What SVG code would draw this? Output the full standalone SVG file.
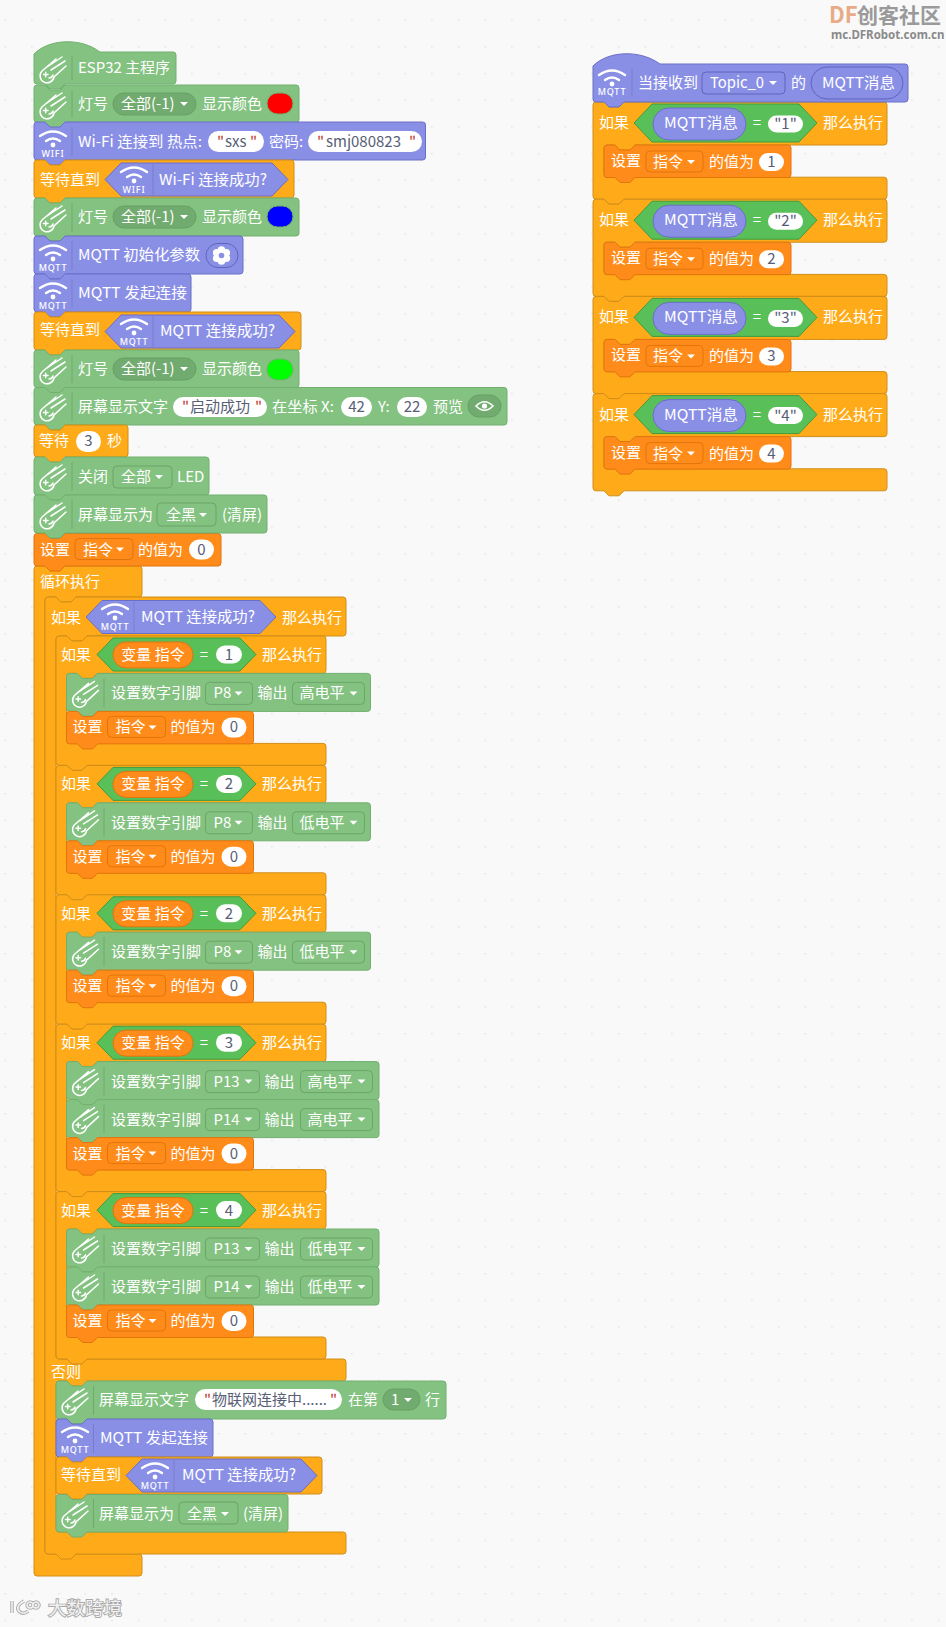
<svg xmlns="http://www.w3.org/2000/svg" width="946" height="1627" viewBox="0 0 946 1627">
<style>
text{font-family:"Noto Sans CJK SC","Noto Sans",sans-serif;font-size:15px}
.t{fill:#fff}.k{fill:#575e75}.q{fill:#c0392b}
.m{text-anchor:middle}
.g{fill:#84c281;stroke:#71b06e}.p{fill:#8a8fe6;stroke:#6a6ec6}.o{fill:#ffab19;stroke:#d08d18}.v{fill:#ff8c1a;stroke:#e0750c}
.h{fill:#59c059;stroke:#3f9c3f}.ph{fill:#8a8fe6;stroke:#6a6ec6}
.wp{fill:#fff}
.dg{fill:#84c281;stroke:#6aa667}.dgp{fill:#72ab6f;stroke:#66a063}.dv{fill:#ff8c1a;stroke:#e0750c}.dp{fill:#8a8fe6;stroke:#5f63bd}
.vp{fill:#ff8c1a;stroke:#e0750c}
.sep{stroke:#000;stroke-opacity:.13;fill:none}
.wl{font-size:9px;fill:#fff;text-anchor:middle;letter-spacing:.8px;font-family:"Noto Sans",sans-serif;font-weight:500}
</style>
<defs>
<pattern id="dots" width="26.67" height="26.67" x="4.5" y="19.5" patternUnits="userSpaceOnUse"><rect width="1.5" height="1.5" fill="#e2e2e2"/></pattern>
<path id="c" d="M-4-2h8l-4 4z" fill="#fff"/>
<g id="comet" fill="none" stroke="#fff" stroke-width="1.5" stroke-linecap="round"><path d="M-11 3A7 7 0 1 0 1 9L13-2M-11 3L3-9M-6-1L9-11M-2 2L12-7M-9.500 6.500h4.500M-7.300 4.300v4.500M-4 10Q-1 10 0 7"/></g>
<g id="wifi"><path d="M-13-9Q0-18 13-9M-7-4Q0-9 7-4" fill="none" stroke="#fff" stroke-width="2.4" stroke-linecap="round"/><circle r="2.4" fill="#fff"/></g>
<path id="s-pin" class="g" d="M0 3q0-3 3-3h8l5 5h10l5-5H301q3 0 3 3V35q0 3-3 3H31l-5 5h-10l-5-5H3q-3 0-3-3Z"/>
<path id="s-pin2" class="g" d="M0 3q0-3 3-3h8l5 5h10l5-5H309.500q3 0 3 3V35q0 3-3 3H31l-5 5h-10l-5-5H3q-3 0-3-3Z"/>
<path id="s-set" class="v" d="M0 3q0-3 3-3h8l5 5h10l5-5H184q3 0 3 3V29.500q0 3-3 3H31l-5 5h-10l-5-5H3q-3 0-3-3Z"/>
<path id="s-if1" class="o" d="M0 3q0-3 3-3h8l5 5h10l5-5H267q3 0 3 3V34.400q0 3-3 3H41l-5 5h-10l-5-5H13.500q-3 0-3 3V104.400q0 3 3 3H267q3 0 3 3V126.400q0 3-3 3H31l-5 5h-10l-5-5H3q-3 0-3-3Z"/>
<path id="s-if2" class="o" d="M0 3q0-3 3-3h8l5 5h10l5-5H267q3 0 3 3V34.400q0 3-3 3H41l-5 5h-10l-5-5H13.500q-3 0-3 3V142.400q0 3 3 3H267q3 0 3 3V164.400q0 3-3 3H31l-5 5h-10l-5-5H3q-3 0-3-3Z"/>
<path id="s-ifr" class="o" d="M0 3q0-3 3-3h8l5 5h10l5-5H291q3 0 3 3V40q0 3-3 3H42l-5 5h-10l-5-5H14q-3 0-3 3V72.200q0 3 3 3H291q3 0 3 3V94.200q0 3-3 3H31l-5 5h-10l-5-5H3q-3 0-3-3Z"/>
<path id="s-hex" class="h" d="M41 18.500L57 2H184L200 18.500L184 35H57Z"/>
<path id="s-hexr" class="h" d="M41 21L59 2H206L224 21L206 40H59Z"/>
</defs>
<rect width="946" height="1627" fill="#f9f9f9"/>
<rect width="946" height="1627" fill="url(#dots)"/>

<g id="watermark-top">
<text x="829" y="23" style="font-size:22px;font-weight:700;fill:#e8ab86">DF</text>
<text x="857" y="23" style="font-size:21px;font-weight:700;fill:#9a9a9a">创客社区</text>
<text x="831" y="39" style="font-size:11.500px;font-weight:700;fill:#8a8a8a;font-family:'Noto Sans',sans-serif">mc.DFRobot.com.cn</text>
</g>
<g id="watermark-bottom">
<path d="M12 1602V1614M24 1602Q14 1608 20 1613Q24 1616 28 1612M36 1603a3 3 0 1 0 .1 0M30 1603a3 3 0 1 0 .1 0" transform="translate(0 -1)" fill="none" stroke="#adadad" stroke-width="3.500"/>
<path d="M12 1602V1614M24 1602Q14 1608 20 1613Q24 1616 28 1612M36 1603a3 3 0 1 0 .1 0M30 1603a3 3 0 1 0 .1 0" transform="translate(0 -1)" fill="none" stroke="#f4f4f4" stroke-width="1.500"/>
<text x="48" y="1615" style="font-size:18.500px;fill:#f2f2f2;stroke:#a8a8a8;stroke-width:1.800;paint-order:stroke">大数跨境</text>
</g>

<g id="connectors"></g>

<!-- main stack -->
<g id="loop"><path class="o" transform="translate(34 566)" d="M0 3q0-3 3-3h8l5 5h10l5-5H105q3 0 3 3V28q0 3-3 3H42l-5 5h-10l-5-5H14q-3 0-3 3V985q0 3 3 3H105q3 0 3 3V1007q0 3-3 3H3q-3 0-3-3Z"/>
<text class="t" x="40" y="587">循环执行</text></g>

<g id="set-top"><use href="#s-set" x="34" y="533.500"/><g transform="translate(34 533.500)"><text class="t" x="6" y="21">设置</text><rect class="dv" x="41" y="5" width="58" height="21" rx="4"/><text class="t" x="49" y="21">指令</text><use href="#c" x="86" y="16"/><text class="t" x="104" y="21">的值为</text><rect class="wp" x="155" y="6" width="25" height="20" rx="10"/><text class="k m" x="167.500" y="21">0</text></g></g>

<g id="hat"><path class="g" transform="translate(34 52)" d="M0 2c16-16 48-16 66-2H139q3 0 3 3V29q0 3-3 3H31l-5 5h-10l-5-5H3q-3 0-3-3Z"/>
<use href="#comet" x="53" y="68"/><path class="sep" d="M72 56V80"/><text class="t" x="78" y="73" textLength="92" lengthAdjust="spacingAndGlyphs">ESP32 主程序</text></g>

<g id="led-red"><path class="g" transform="translate(34 85)" d="M0 3q0-3 3-3h8l5 5h10l5-5H262q3 0 3 3V34.500q0 3-3 3H31l-5 5h-10l-5-5H3q-3 0-3-3Z"/>
<use href="#comet" x="53" y="104"/><path class="sep" d="M72 90V118"/><text class="t" x="78" y="109">灯号</text><rect class="dgp" x="113" y="93" width="83" height="22" rx="11"/><text class="t" x="121" y="109">全部(-1)</text><use href="#c" x="184" y="104"/><text class="t" x="202" y="109">显示颜色</text><rect x="267" y="93" width="26" height="21" rx="10.500" fill="#f00" stroke="#71b06e"/></g>

<g id="wifi-connect"><path class="p" transform="translate(34 122)" d="M0 3q0-3 3-3h8l5 5h10l5-5H388.500q3 0 3 3V35q0 3-3 3H31l-5 5h-10l-5-5H3q-3 0-3-3Z"/>
<use href="#wifi" x="53" y="145"/><text class="wl" x="53" y="157">WIFI</text><path class="sep" d="M72 127V156"/><text class="t" x="78" y="147" textLength="124" lengthAdjust="spacingAndGlyphs">Wi-Fi 连接到 热点:</text>
<rect class="wp" x="208" y="131" width="56" height="21" rx="10.500"/><text class="k" y="147"><tspan class="q" x="217">"</tspan><tspan x="225">sxs</tspan><tspan class="q" x="250">"</tspan></text>
<text class="t" x="269" y="147">密码:</text><rect class="wp" x="308" y="131" width="114" height="21" rx="10.500"/><text class="k" y="147"><tspan class="q" x="317">"</tspan><tspan x="326">smj080823</tspan><tspan class="q" x="409">"</tspan></text></g>

<g id="wait-wifi"><path class="o" transform="translate(34 160)" d="M0 3q0-3 3-3h8l5 5h10l5-5H257q3 0 3 3V35q0 3-3 3H31l-5 5h-10l-5-5H3q-3 0-3-3Z"/>
<text class="t" x="40" y="185">等待直到</text><path class="ph" d="M105 179.500L121 163H272L288 179.500L272 196H121Z"/><use href="#wifi" x="134" y="181"/><text class="wl" x="134" y="193">WIFI</text><path class="sep" d="M153 164V195"/><text class="t" x="159" y="185" textLength="108" lengthAdjust="spacingAndGlyphs">Wi-Fi 连接成功?</text></g>

<g id="led-blue"><path class="g" transform="translate(34 198)" d="M0 3q0-3 3-3h8l5 5h10l5-5H262q3 0 3 3V35q0 3-3 3H31l-5 5h-10l-5-5H3q-3 0-3-3Z"/>
<use href="#comet" x="53" y="217"/><path class="sep" d="M72 203V232"/><text class="t" x="78" y="222">灯号</text><rect class="dgp" x="113" y="206" width="83" height="22" rx="11"/><text class="t" x="121" y="222">全部(-1)</text><use href="#c" x="184" y="217"/><text class="t" x="202" y="222">显示颜色</text><rect x="267" y="206" width="26" height="21" rx="10.500" fill="#00f" stroke="#71b06e"/></g>

<g id="mqtt-init"><path class="p" transform="translate(34 236)" d="M0 3q0-3 3-3h8l5 5h10l5-5H206q3 0 3 3V35q0 3-3 3H31l-5 5h-10l-5-5H3q-3 0-3-3Z"/>
<use href="#wifi" x="53" y="259"/><text class="wl" x="53" y="271">MQTT</text><path class="sep" d="M72 241V270"/><text class="t" x="78" y="260" textLength="122" lengthAdjust="spacingAndGlyphs">MQTT 初始化参数</text><rect class="dp" x="206" y="243.500" width="32" height="24" rx="12"/><g fill="#fff"><circle cx="221.500" cy="255.500" r="6"/><circle cx="221.500" cy="250" r="3.800"/><circle cx="221.500" cy="261" r="3.800"/><circle cx="216.700" cy="252.700" r="3.800"/><circle cx="226.300" cy="252.700" r="3.800"/><circle cx="216.700" cy="258.300" r="3.800"/><circle cx="226.300" cy="258.300" r="3.800"/></g><circle cx="221.500" cy="255.500" r="2.800" fill="#8a8fe6"/></g>

<g id="mqtt-connect"><path class="p" transform="translate(34 274)" d="M0 3q0-3 3-3h8l5 5h10l5-5H154q3 0 3 3V35q0 3-3 3H31l-5 5h-10l-5-5H3q-3 0-3-3Z"/>
<use href="#wifi" x="53" y="297"/><text class="wl" x="53" y="309">MQTT</text><path class="sep" d="M72 279V308"/><text class="t" x="78" y="298" textLength="109" lengthAdjust="spacingAndGlyphs">MQTT 发起连接</text></g>

<g id="wait-mqtt"><path class="o" transform="translate(34 312)" d="M0 3q0-3 3-3h8l5 5h10l5-5H264q3 0 3 3V35q0 3-3 3H31l-5 5h-10l-5-5H3q-3 0-3-3Z"/>
<text class="t" x="40" y="335">等待直到</text><path class="ph" d="M105 331.500L121 315H279L295 331.500L279 348H121Z"/><use href="#wifi" x="134" y="333"/><text class="wl" x="134" y="345">MQTT</text><path class="sep" d="M153 316V347"/><text class="t" x="160" y="336" textLength="115" lengthAdjust="spacingAndGlyphs">MQTT 连接成功?</text></g>

<g id="led-green"><path class="g" transform="translate(34 350)" d="M0 3q0-3 3-3h8l5 5h10l5-5H262q3 0 3 3V34.500q0 3-3 3H31l-5 5h-10l-5-5H3q-3 0-3-3Z"/>
<use href="#comet" x="53" y="369"/><path class="sep" d="M72 355V383"/><text class="t" x="78" y="374">灯号</text><rect class="dgp" x="113" y="358" width="83" height="22" rx="11"/><text class="t" x="121" y="374">全部(-1)</text><use href="#c" x="184" y="369"/><text class="t" x="202" y="374">显示颜色</text><rect x="267" y="359" width="26" height="21" rx="10.500" fill="#0f0" stroke="#71b06e"/></g>

<g id="screen-text"><path class="g" transform="translate(34 387.500)" d="M0 3q0-3 3-3h8l5 5h10l5-5H470q3 0 3 3V34.500q0 3-3 3H31l-5 5h-10l-5-5H3q-3 0-3-3Z"/>
<use href="#comet" x="53" y="406"/><path class="sep" d="M72 392V421"/><text class="t" x="78" y="412">屏幕显示文字</text><rect class="wp" x="173" y="397" width="94" height="20" rx="10"/><text class="k" y="412"><tspan class="q" x="182">"</tspan><tspan x="190">启动成功</tspan><tspan class="q" x="255">"</tspan></text><text class="t" x="272" y="412" textLength="62" lengthAdjust="spacingAndGlyphs">在坐标 X:</text><rect class="wp" x="341" y="397" width="31" height="20" rx="10"/><text class="k m" x="356.500" y="412">42</text><text class="t" x="378" y="412">Y:</text><rect class="wp" x="397" y="397" width="30" height="20" rx="10"/><text class="k m" x="412" y="412">22</text><text class="t" x="433" y="412">预览</text><rect class="dgp" x="468" y="395" width="33" height="22" rx="11"/><path d="M476 406Q484.500 397.500 493 406Q484.500 414.500 476 406Z" fill="none" stroke="#fff" stroke-width="1.600"/><circle cx="484.500" cy="406" r="2.600" fill="#fff"/></g>

<g id="wait-3"><path class="o" transform="translate(34 425)" d="M0 3q0-3 3-3h8l5 5h10l5-5H91q3 0 3 3V29q0 3-3 3H31l-5 5h-10l-5-5H3q-3 0-3-3Z"/>
<text class="t" x="39" y="446">等待</text><rect class="wp" x="76" y="431" width="25" height="21" rx="10.500"/><text class="k m" x="88.500" y="446">3</text><text class="t" x="107" y="446">秒</text></g>

<g id="led-off"><path class="g" transform="translate(34 457)" d="M0 3q0-3 3-3h8l5 5h10l5-5H172q3 0 3 3V35q0 3-3 3H31l-5 5h-10l-5-5H3q-3 0-3-3Z"/>
<use href="#comet" x="53" y="476"/><path class="sep" d="M72 462V491"/><text class="t" x="78" y="482">关闭</text><rect class="dg" x="113" y="466" width="59" height="22" rx="4"/><text class="t" x="121" y="482">全部</text><use href="#c" x="159" y="477"/><text class="t" x="177" y="482">LED</text></g>

<g id="screen-clear"><path class="g" transform="translate(34 495)" d="M0 3q0-3 3-3h8l5 5h10l5-5H230q3 0 3 3V35q0 3-3 3H31l-5 5h-10l-5-5H3q-3 0-3-3Z"/>
<use href="#comet" x="53" y="514"/><path class="sep" d="M72 500V529"/><text class="t" x="78" y="520">屏幕显示为</text><rect class="dg" x="157" y="503" width="59" height="23" rx="4"/><text class="t" x="166" y="520">全黑</text><use href="#c" x="203" y="515"/><text class="t" x="222" y="520">(清屏)</text></g>

<!-- outer if -->
<g id="if-mqtt"><path class="o" transform="translate(45 597)" d="M0 3q0-3 3-3h8l5 5h10l5-5H298q3 0 3 3V36q0 3-3 3H42l-5 5h-10l-5-5H14q-3 0-3 3V759q0 3 3 3h8l5 5h10l5-5H298q3 0 3 3V781q0 3-3 3H42l-5 5h-10l-5-5H14q-3 0-3 3V932q0 3 3 3H298q3 0 3 3V954q0 3-3 3H31l-5 5h-10l-5-5H3q-3 0-3-3Z"/>
<text class="t" x="51" y="623">如果</text><path class="ph" d="M86 617L102 600.500H260L276 617L260 633.500H102Z"/><use href="#wifi" x="115" y="618"/><text class="wl" x="115" y="630">MQTT</text><path class="sep" d="M134 601.500V632.500"/><text class="t" x="141" y="622" textLength="114" lengthAdjust="spacingAndGlyphs">MQTT 连接成功?</text><text class="t" x="282" y="623">那么执行</text>
<text class="t" x="51" y="1377">否则</text></g>

<!-- inner ifs -->
<g id="if-1" transform="translate(56 636)"><use href="#s-if1"/><text class="t" x="5" y="24">如果</text><use href="#s-hex"/><rect class="vp" x="57" y="6" width="80" height="26" rx="13"/><text class="t m" x="97" y="24">变量 指令</text><text class="t m" x="148" y="24">=</text><rect class="wp" x="160" y="9.500" width="26" height="18" rx="9"/><text class="k m" x="173" y="24">1</text><text class="t" x="206" y="24">那么执行</text></g>
<g id="pin-1" transform="translate(66.500 673.400)"><use href="#s-pin"/><use href="#comet" x="19" y="19"/><path class="sep" d="M37.500 5V34"/><text class="t" x="44.500" y="25">设置数字引脚</text><rect class="dg" x="139" y="9" width="47" height="22" rx="4"/><text class="t" x="147" y="25">P8</text><use href="#c" x="172" y="20"/><text class="t" x="191" y="25">输出</text><rect class="dg" x="226" y="9" width="72" height="22" rx="4"/><text class="t" x="233" y="25">高电平</text><use href="#c" x="287" y="20"/></g>
<g id="set-1" transform="translate(66.500 711.400)"><use href="#s-set"/><text class="t" x="6" y="21">设置</text><rect class="dv" x="41" y="5" width="58" height="21" rx="4"/><text class="t" x="49" y="21">指令</text><use href="#c" x="86" y="16"/><text class="t" x="104" y="21">的值为</text><rect class="wp" x="155" y="6" width="25" height="20" rx="10"/><text class="k m" x="167.500" y="21">0</text></g>

<g id="if-2" transform="translate(56 765.400)"><use href="#s-if1"/><text class="t" x="5" y="24">如果</text><use href="#s-hex"/><rect class="vp" x="57" y="6" width="80" height="26" rx="13"/><text class="t m" x="97" y="24">变量 指令</text><text class="t m" x="148" y="24">=</text><rect class="wp" x="160" y="9.500" width="26" height="18" rx="9"/><text class="k m" x="173" y="24">2</text><text class="t" x="206" y="24">那么执行</text></g>
<g id="pin-2" transform="translate(66.500 802.800)"><use href="#s-pin"/><use href="#comet" x="19" y="19"/><path class="sep" d="M37.500 5V34"/><text class="t" x="44.500" y="25">设置数字引脚</text><rect class="dg" x="139" y="9" width="47" height="22" rx="4"/><text class="t" x="147" y="25">P8</text><use href="#c" x="172" y="20"/><text class="t" x="191" y="25">输出</text><rect class="dg" x="226" y="9" width="72" height="22" rx="4"/><text class="t" x="233" y="25">低电平</text><use href="#c" x="287" y="20"/></g>
<g id="set-2" transform="translate(66.500 840.800)"><use href="#s-set"/><text class="t" x="6" y="21">设置</text><rect class="dv" x="41" y="5" width="58" height="21" rx="4"/><text class="t" x="49" y="21">指令</text><use href="#c" x="86" y="16"/><text class="t" x="104" y="21">的值为</text><rect class="wp" x="155" y="6" width="25" height="20" rx="10"/><text class="k m" x="167.500" y="21">0</text></g>

<g id="if-3" transform="translate(56 894.800)"><use href="#s-if1"/><text class="t" x="5" y="24">如果</text><use href="#s-hex"/><rect class="vp" x="57" y="6" width="80" height="26" rx="13"/><text class="t m" x="97" y="24">变量 指令</text><text class="t m" x="148" y="24">=</text><rect class="wp" x="160" y="9.500" width="26" height="18" rx="9"/><text class="k m" x="173" y="24">2</text><text class="t" x="206" y="24">那么执行</text></g>
<g id="pin-3" transform="translate(66.500 932.200)"><use href="#s-pin"/><use href="#comet" x="19" y="19"/><path class="sep" d="M37.500 5V34"/><text class="t" x="44.500" y="25">设置数字引脚</text><rect class="dg" x="139" y="9" width="47" height="22" rx="4"/><text class="t" x="147" y="25">P8</text><use href="#c" x="172" y="20"/><text class="t" x="191" y="25">输出</text><rect class="dg" x="226" y="9" width="72" height="22" rx="4"/><text class="t" x="233" y="25">低电平</text><use href="#c" x="287" y="20"/></g>
<g id="set-3" transform="translate(66.500 970.200)"><use href="#s-set"/><text class="t" x="6" y="21">设置</text><rect class="dv" x="41" y="5" width="58" height="21" rx="4"/><text class="t" x="49" y="21">指令</text><use href="#c" x="86" y="16"/><text class="t" x="104" y="21">的值为</text><rect class="wp" x="155" y="6" width="25" height="20" rx="10"/><text class="k m" x="167.500" y="21">0</text></g>

<g id="if-4" transform="translate(56 1024.200)"><use href="#s-if2"/><text class="t" x="5" y="24">如果</text><use href="#s-hex"/><rect class="vp" x="57" y="6" width="80" height="26" rx="13"/><text class="t m" x="97" y="24">变量 指令</text><text class="t m" x="148" y="24">=</text><rect class="wp" x="160" y="9.500" width="26" height="18" rx="9"/><text class="k m" x="173" y="24">3</text><text class="t" x="206" y="24">那么执行</text></g>
<g id="pin-4a" transform="translate(66.500 1061.600)"><use href="#s-pin2"/><use href="#comet" x="19" y="19"/><path class="sep" d="M37.500 5V34"/><text class="t" x="44.500" y="25">设置数字引脚</text><rect class="dg" x="139" y="9" width="54" height="22" rx="4"/><text class="t" x="147" y="25">P13</text><use href="#c" x="182" y="20"/><text class="t" x="198" y="25">输出</text><rect class="dg" x="234" y="9" width="72" height="22" rx="4"/><text class="t" x="241" y="25">高电平</text><use href="#c" x="295" y="20"/></g>
<g id="pin-4b" transform="translate(66.500 1099.600)"><use href="#s-pin2"/><use href="#comet" x="19" y="19"/><path class="sep" d="M37.500 5V34"/><text class="t" x="44.500" y="25">设置数字引脚</text><rect class="dg" x="139" y="9" width="54" height="22" rx="4"/><text class="t" x="147" y="25">P14</text><use href="#c" x="182" y="20"/><text class="t" x="198" y="25">输出</text><rect class="dg" x="234" y="9" width="72" height="22" rx="4"/><text class="t" x="241" y="25">高电平</text><use href="#c" x="295" y="20"/></g>
<g id="set-4" transform="translate(66.500 1137.600)"><use href="#s-set"/><text class="t" x="6" y="21">设置</text><rect class="dv" x="41" y="5" width="58" height="21" rx="4"/><text class="t" x="49" y="21">指令</text><use href="#c" x="86" y="16"/><text class="t" x="104" y="21">的值为</text><rect class="wp" x="155" y="6" width="25" height="20" rx="10"/><text class="k m" x="167.500" y="21">0</text></g>

<g id="if-5" transform="translate(56 1191.600)"><use href="#s-if2"/><text class="t" x="5" y="24">如果</text><use href="#s-hex"/><rect class="vp" x="57" y="6" width="80" height="26" rx="13"/><text class="t m" x="97" y="24">变量 指令</text><text class="t m" x="148" y="24">=</text><rect class="wp" x="160" y="9.500" width="26" height="18" rx="9"/><text class="k m" x="173" y="24">4</text><text class="t" x="206" y="24">那么执行</text></g>
<g id="pin-5a" transform="translate(66.500 1229)"><use href="#s-pin2"/><use href="#comet" x="19" y="19"/><path class="sep" d="M37.500 5V34"/><text class="t" x="44.500" y="25">设置数字引脚</text><rect class="dg" x="139" y="9" width="54" height="22" rx="4"/><text class="t" x="147" y="25">P13</text><use href="#c" x="182" y="20"/><text class="t" x="198" y="25">输出</text><rect class="dg" x="234" y="9" width="72" height="22" rx="4"/><text class="t" x="241" y="25">低电平</text><use href="#c" x="295" y="20"/></g>
<g id="pin-5b" transform="translate(66.500 1267)"><use href="#s-pin2"/><use href="#comet" x="19" y="19"/><path class="sep" d="M37.500 5V34"/><text class="t" x="44.500" y="25">设置数字引脚</text><rect class="dg" x="139" y="9" width="54" height="22" rx="4"/><text class="t" x="147" y="25">P14</text><use href="#c" x="182" y="20"/><text class="t" x="198" y="25">输出</text><rect class="dg" x="234" y="9" width="72" height="22" rx="4"/><text class="t" x="241" y="25">低电平</text><use href="#c" x="295" y="20"/></g>
<g id="set-5" transform="translate(66.500 1305)"><use href="#s-set"/><text class="t" x="6" y="21">设置</text><rect class="dv" x="41" y="5" width="58" height="21" rx="4"/><text class="t" x="49" y="21">指令</text><use href="#c" x="86" y="16"/><text class="t" x="104" y="21">的值为</text><rect class="wp" x="155" y="6" width="25" height="20" rx="10"/><text class="k m" x="167.500" y="21">0</text></g>

<!-- else branch -->
<g id="else-text"><path class="g" transform="translate(56 1381)" d="M0 3q0-3 3-3h8l5 5h10l5-5H387q3 0 3 3V35q0 3-3 3H31l-5 5h-10l-5-5H3q-3 0-3-3Z"/>
<use href="#comet" x="75" y="1400"/><path class="sep" d="M93.500 1386V1415"/><text class="t" x="99" y="1405">屏幕显示文字</text><rect class="wp" x="195" y="1389" width="147" height="21" rx="10.500"/><text class="k" y="1405"><tspan class="q" x="204">"</tspan><tspan x="212">物联网连接中......</tspan><tspan class="q" x="330">"</tspan></text><text class="t" x="348" y="1405">在第</text><rect class="dgp" x="383" y="1389" width="37" height="21" rx="10.500"/><text class="t" x="391" y="1405">1</text><use href="#c" x="408" y="1400"/><text class="t" x="425" y="1405">行</text></g>
<g id="else-connect"><path class="p" transform="translate(56 1419)" d="M0 3q0-3 3-3h8l5 5h10l5-5H154q3 0 3 3V35q0 3-3 3H31l-5 5h-10l-5-5H3q-3 0-3-3Z"/>
<use href="#wifi" x="75" y="1441"/><text class="wl" x="75" y="1453">MQTT</text><path class="sep" d="M93.500 1424V1453"/><text class="t" x="100" y="1443" textLength="108" lengthAdjust="spacingAndGlyphs">MQTT 发起连接</text></g>
<g id="else-wait"><path class="o" transform="translate(56 1457)" d="M0 3q0-3 3-3h8l5 5h10l5-5H263q3 0 3 3V34q0 3-3 3H31l-5 5h-10l-5-5H3q-3 0-3-3Z"/>
<text class="t" x="61" y="1480">等待直到</text><path class="ph" d="M126 1475.500L142 1459H301L317 1475.500L301 1492H142Z"/><use href="#wifi" x="155" y="1477"/><text class="wl" x="155" y="1489">MQTT</text><path class="sep" d="M174 1460V1491"/><text class="t" x="182" y="1480" textLength="114" lengthAdjust="spacingAndGlyphs">MQTT 连接成功?</text></g>
<g id="else-clear"><path class="g" transform="translate(56 1494.500)" d="M0 3q0-3 3-3h8l5 5h10l5-5H229q3 0 3 3V34.500q0 3-3 3H31l-5 5h-10l-5-5H3q-3 0-3-3Z"/>
<use href="#comet" x="75" y="1513"/><path class="sep" d="M93.500 1499V1528"/><text class="t" x="99" y="1519">屏幕显示为</text><rect class="dg" x="179" y="1502" width="59" height="22" rx="4"/><text class="t" x="187" y="1519">全黑</text><use href="#c" x="225" y="1514"/><text class="t" x="243" y="1519">(清屏)</text></g>

<!-- right stack -->
<g id="r-if-1" transform="translate(593 102)"><use href="#s-ifr"/><text class="t" x="6" y="26">如果</text><use href="#s-hexr"/><rect class="ph" x="60" y="6" width="93" height="32" rx="16"/><text class="t" x="71" y="26" textLength="74" lengthAdjust="spacingAndGlyphs">MQTT消息</text><text class="t m" x="164" y="26">=</text><rect class="wp" x="175" y="13.500" width="35" height="17" rx="8.500"/><text class="k m" x="192.500" y="27">"1"</text><text class="t" x="230" y="26">那么执行</text></g>
<g id="r-set-1" transform="translate(604 145)"><use href="#s-set"/><text class="t" x="7" y="21">设置</text><rect class="dv" x="42" y="6" width="57" height="21" rx="4"/><text class="t" x="49" y="22">指令</text><use href="#c" x="87" y="17"/><text class="t" x="105" y="22">的值为</text><rect class="wp" x="155" y="8" width="25" height="18" rx="9"/><text class="k m" x="167.500" y="22">1</text></g>
<g id="r-if-2" transform="translate(593 199.200)"><use href="#s-ifr"/><text class="t" x="6" y="26">如果</text><use href="#s-hexr"/><rect class="ph" x="60" y="6" width="93" height="32" rx="16"/><text class="t" x="71" y="26" textLength="74" lengthAdjust="spacingAndGlyphs">MQTT消息</text><text class="t m" x="164" y="26">=</text><rect class="wp" x="175" y="13.500" width="35" height="17" rx="8.500"/><text class="k m" x="192.500" y="27">"2"</text><text class="t" x="230" y="26">那么执行</text></g>
<g id="r-set-2" transform="translate(604 242.200)"><use href="#s-set"/><text class="t" x="7" y="21">设置</text><rect class="dv" x="42" y="6" width="57" height="21" rx="4"/><text class="t" x="49" y="22">指令</text><use href="#c" x="87" y="17"/><text class="t" x="105" y="22">的值为</text><rect class="wp" x="155" y="8" width="25" height="18" rx="9"/><text class="k m" x="167.500" y="22">2</text></g>
<g id="r-if-3" transform="translate(593 296.400)"><use href="#s-ifr"/><text class="t" x="6" y="26">如果</text><use href="#s-hexr"/><rect class="ph" x="60" y="6" width="93" height="32" rx="16"/><text class="t" x="71" y="26" textLength="74" lengthAdjust="spacingAndGlyphs">MQTT消息</text><text class="t m" x="164" y="26">=</text><rect class="wp" x="175" y="13.500" width="35" height="17" rx="8.500"/><text class="k m" x="192.500" y="27">"3"</text><text class="t" x="230" y="26">那么执行</text></g>
<g id="r-set-3" transform="translate(604 339.400)"><use href="#s-set"/><text class="t" x="7" y="21">设置</text><rect class="dv" x="42" y="6" width="57" height="21" rx="4"/><text class="t" x="49" y="22">指令</text><use href="#c" x="87" y="17"/><text class="t" x="105" y="22">的值为</text><rect class="wp" x="155" y="8" width="25" height="18" rx="9"/><text class="k m" x="167.500" y="22">3</text></g>
<g id="r-if-4" transform="translate(593 393.600)"><use href="#s-ifr"/><text class="t" x="6" y="26">如果</text><use href="#s-hexr"/><rect class="ph" x="60" y="6" width="93" height="32" rx="16"/><text class="t" x="71" y="26" textLength="74" lengthAdjust="spacingAndGlyphs">MQTT消息</text><text class="t m" x="164" y="26">=</text><rect class="wp" x="175" y="13.500" width="35" height="17" rx="8.500"/><text class="k m" x="192.500" y="27">"4"</text><text class="t" x="230" y="26">那么执行</text></g>
<g id="r-set-4" transform="translate(604 436.600)"><use href="#s-set"/><text class="t" x="7" y="21">设置</text><rect class="dv" x="42" y="6" width="57" height="21" rx="4"/><text class="t" x="49" y="22">指令</text><use href="#c" x="87" y="17"/><text class="t" x="105" y="22">的值为</text><rect class="wp" x="155" y="8" width="25" height="18" rx="9"/><text class="k m" x="167.500" y="22">4</text></g>

<g id="r-hat"><path class="p" transform="translate(593 64)" d="M0 2c16-16 48-16 67-2H312q3 0 3 3V35q0 3-3 3H31l-5 5h-10l-5-5H3q-3 0-3-3Z"/>
<use href="#wifi" x="612" y="84"/><text class="wl" x="612" y="95">MQTT</text><path class="sep" d="M632 69V97"/><text class="t" x="638" y="88">当接收到</text><rect class="dp" x="702" y="72" width="83" height="22" rx="4"/><text class="t" x="710" y="88" textLength="54" lengthAdjust="spacingAndGlyphs">Topic_0</text><use href="#c" x="773" y="83"/><text class="t" x="791" y="88">的</text><rect class="dp" x="811" y="67" width="92" height="32" rx="16"/><text class="t" x="822" y="88" textLength="73" lengthAdjust="spacingAndGlyphs">MQTT消息</text></g>
</svg>
